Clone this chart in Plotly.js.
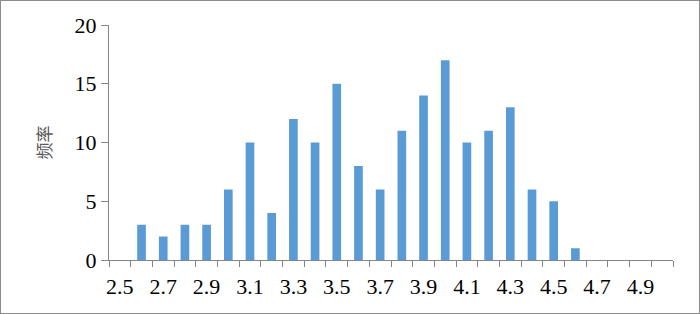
<!DOCTYPE html>
<html>
<head>
<meta charset="utf-8">
<script src="https://cdn.plot.ly/plotly-3.0.1.min.js"></script>
<style>
html,body{margin:0;padding:0;background:#fff;}
#chart{width:700px;height:314px;box-sizing:border-box;border:1px solid #8c8c8c;}
</style>
</head>
<body>
<div id="chart"></div>
<script>
const categories = [2.5, 2.6, 2.7, 2.8, 2.9, 3.0, 3.1, 3.2, 3.3, 3.4, 3.5, 3.6, 3.7,
                    3.8, 3.9, 4.0, 4.1, 4.2, 4.3, 4.4, 4.5, 4.6, 4.7, 4.8, 4.9, 5.0];
const frequency = [0, 3, 2, 3, 3, 6, 10, 4, 12, 10, 15, 8, 6,
                   11, 14, 17, 10, 11, 13, 6, 5, 1, 0, 0, 0, 0];
const xTickLabels = ['2.5','2.7','2.9','3.1','3.3','3.5','3.7','3.9','4.1','4.3','4.5','4.7','4.9'];
const yTitle = '频率';

const xTickVals = xTickLabels.map(Number);

const trace = {
  type: 'bar',
  x: categories,
  y: frequency,
  width: 0.04,
  marker: {color: '#5B9BD5', line: {width: 0}},
  hoverinfo: 'x+y'
};

const serif = 'Liberation Serif';
const axisColor = '#868686';
const layout = {
  width: 698, height: 312,
  margin: {l: 108, r: 26, t: 24, b: 53, pad: 0},
  paper_bgcolor: '#ffffff',
  plot_bgcolor: '#ffffff',
  showlegend: false,
  font: {family: serif, color: '#000', size: 22},
  xaxis: {
    type: 'linear',
    range: [2.45, 5.05],
    tickvals: xTickVals,
    ticktext: xTickLabels,
    ticks: '',
    ticklabelstandoff: 7,
    showgrid: false,
    zeroline: false,
    showline: true,
    linecolor: axisColor,
    linewidth: 1,
    tickfont: {family: serif, size: 22, color: '#000'},
    minor: {tick0: 2.45, dtick: 0.1, ticks: 'outside', ticklen: 6, tickcolor: axisColor, tickwidth: 1, showgrid: false},
    fixedrange: true
  },
  yaxis: {
    range: [0, 20],
    tickvals: [0, 5, 10, 15, 20],
    ticks: 'outside',
    ticklen: 7,
    tickcolor: axisColor,
    showgrid: false,
    zeroline: false,
    showline: true,
    linecolor: axisColor,
    linewidth: 1,
    tickfont: {family: serif, size: 22, color: '#000'},
    title: {text: yTitle, standoff: 18,
            font: {family: 'Noto Sans CJK SC', size: 17, color: '#595959'}},
    automargin: false,
    fixedrange: true
  }
};

Plotly.newPlot('chart', [trace], layout, {displayModeBar: false, staticPlot: true});
</script>
</body>
</html>
